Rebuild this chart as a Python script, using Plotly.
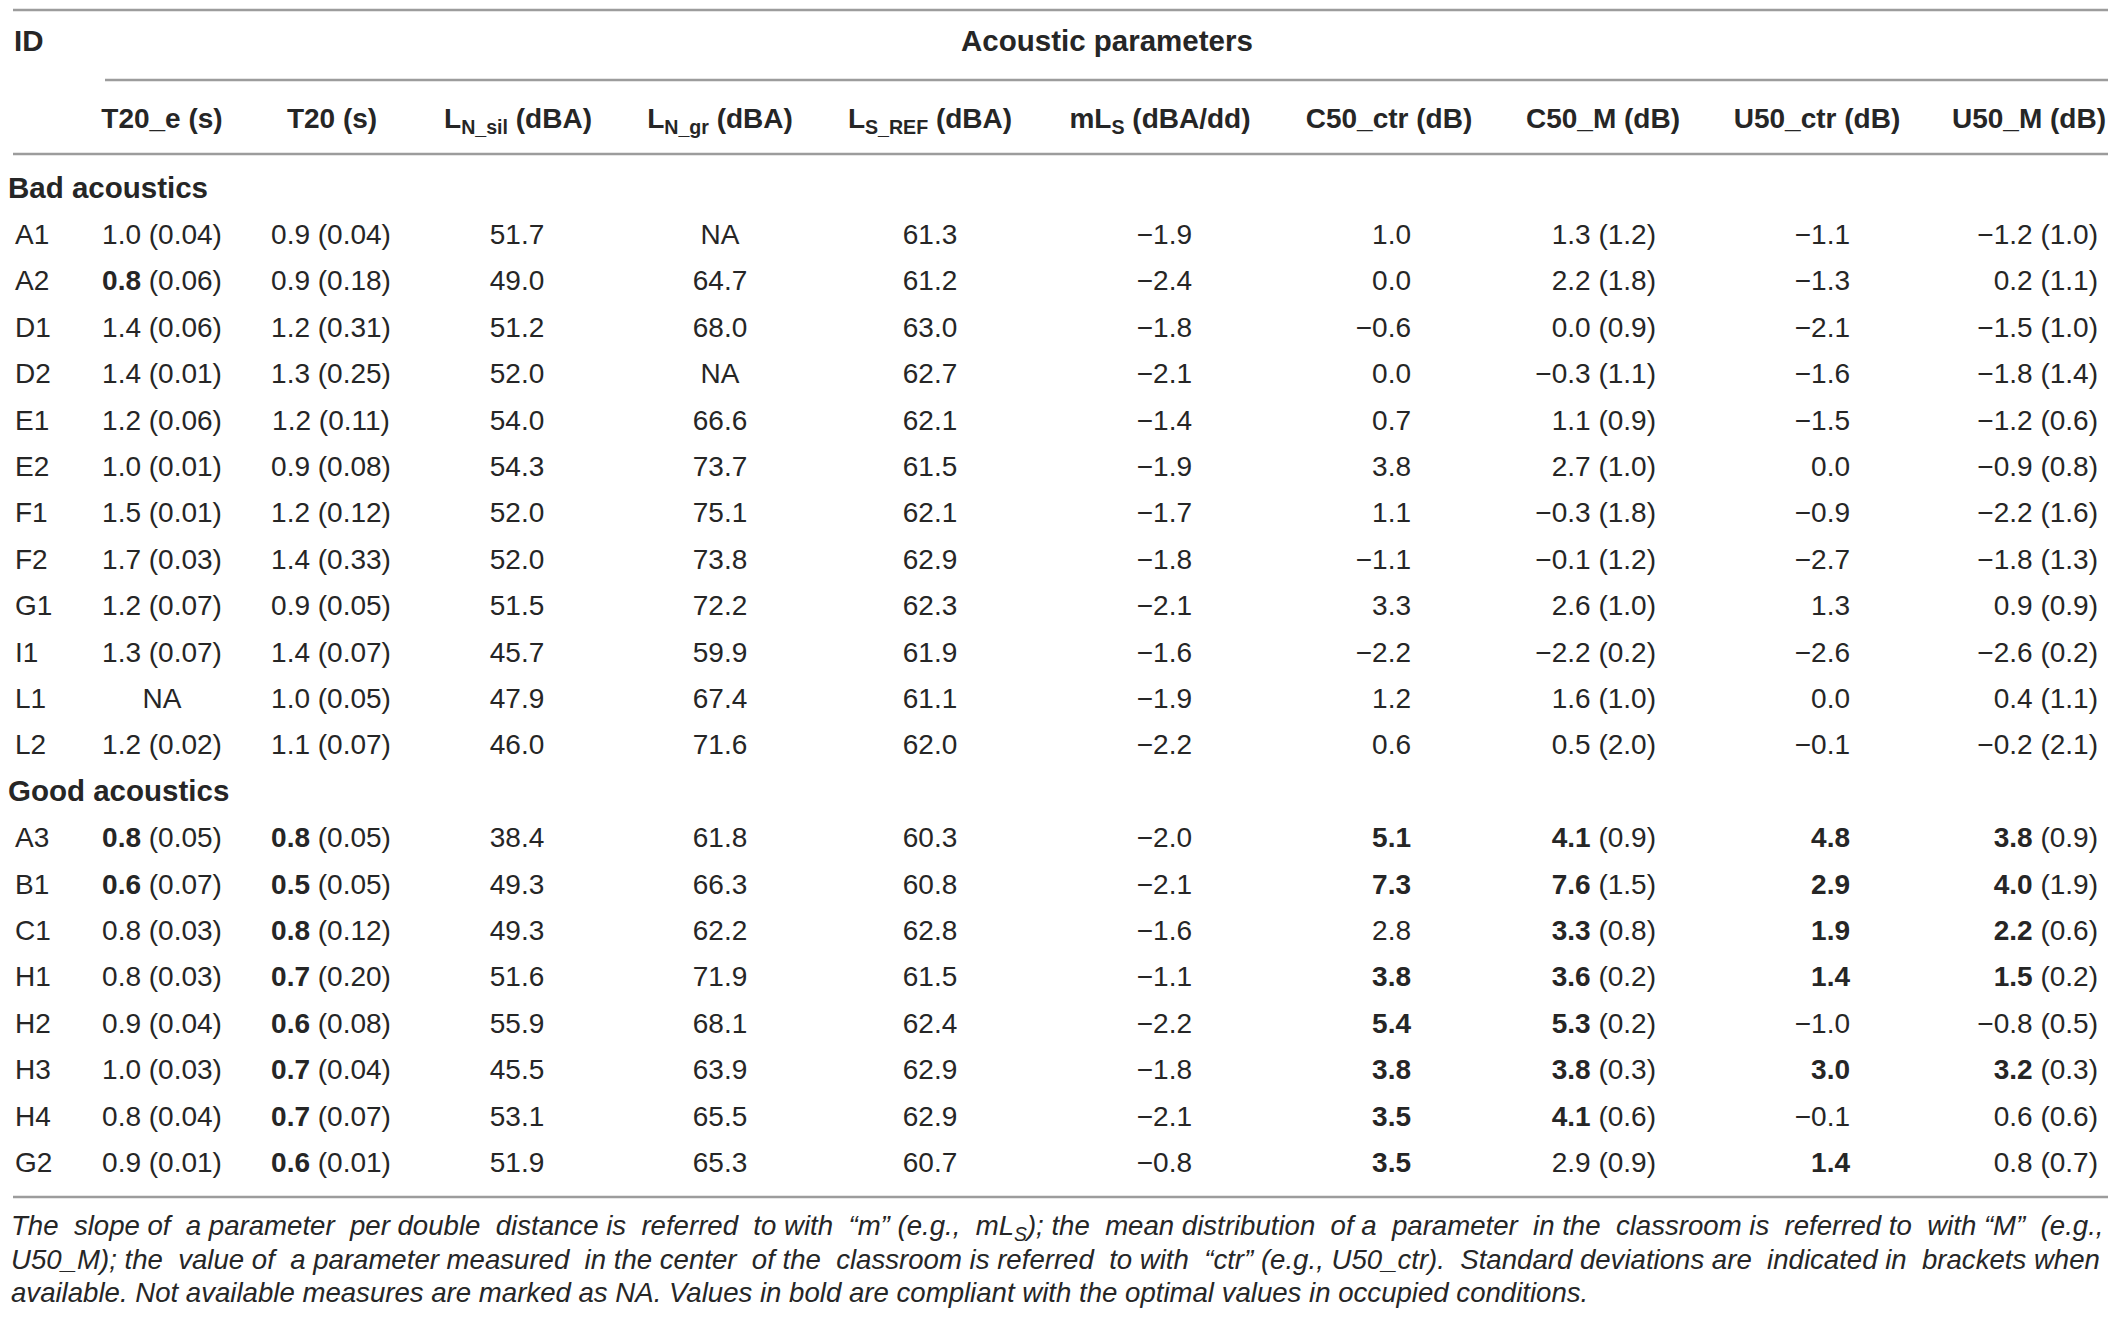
import plotly.graph_objects as go

# ---- table data ----
group_labels = ["Bad acoustics", "Good acoustics"]
bad_ids = ["A1", "A2", "D1", "D2", "E1", "E2", "F1", "F2", "G1", "I1", "L1", "L2"]
good_ids = ["A3", "B1", "C1", "H1", "H2", "H3", "H4", "G2"]

t20e_mean = [1.0, 0.8, 1.4, 1.4, 1.2, 1.0, 1.5, 1.7, 1.2, 1.3, None, 1.2,
             0.8, 0.6, 0.8, 0.8, 0.9, 1.0, 0.8, 0.9]
t20e_sd = [0.04, 0.06, 0.06, 0.01, 0.06, 0.01, 0.01, 0.03, 0.07, 0.07, None, 0.02,
           0.05, 0.07, 0.03, 0.03, 0.04, 0.03, 0.04, 0.01]
t20e_ok = [0, 1, 0, 0, 0, 0, 0, 0, 0, 0, 0, 0,
           1, 1, 0, 0, 0, 0, 0, 0]

t20_mean = [0.9, 0.9, 1.2, 1.3, 1.2, 0.9, 1.2, 1.4, 0.9, 1.4, 1.0, 1.1,
            0.8, 0.5, 0.8, 0.7, 0.6, 0.7, 0.7, 0.6]
t20_sd = [0.04, 0.18, 0.31, 0.25, 0.11, 0.08, 0.12, 0.33, 0.05, 0.07, 0.05, 0.07,
          0.05, 0.05, 0.12, 0.20, 0.08, 0.04, 0.07, 0.01]
t20_ok = [0, 0, 0, 0, 0, 0, 0, 0, 0, 0, 0, 0,
          1, 1, 1, 1, 1, 1, 1, 1]

ln_sil = [51.7, 49.0, 51.2, 52.0, 54.0, 54.3, 52.0, 52.0, 51.5, 45.7, 47.9, 46.0,
          38.4, 49.3, 49.3, 51.6, 55.9, 45.5, 53.1, 51.9]
ln_gr = [None, 64.7, 68.0, None, 66.6, 73.7, 75.1, 73.8, 72.2, 59.9, 67.4, 71.6,
         61.8, 66.3, 62.2, 71.9, 68.1, 63.9, 65.5, 65.3]
ls_ref = [61.3, 61.2, 63.0, 62.7, 62.1, 61.5, 62.1, 62.9, 62.3, 61.9, 61.1, 62.0,
          60.3, 60.8, 62.8, 61.5, 62.4, 62.9, 62.9, 60.7]
m_ls = [-1.9, -2.4, -1.8, -2.1, -1.4, -1.9, -1.7, -1.8, -2.1, -1.6, -1.9, -2.2,
        -2.0, -2.1, -1.6, -1.1, -2.2, -1.8, -2.1, -0.8]

c50_ctr = [1.0, 0.0, -0.6, 0.0, 0.7, 3.8, 1.1, -1.1, 3.3, -2.2, 1.2, 0.6,
           5.1, 7.3, 2.8, 3.8, 5.4, 3.8, 3.5, 3.5]
c50_ctr_ok = [0, 0, 0, 0, 0, 0, 0, 0, 0, 0, 0, 0,
              1, 1, 0, 1, 1, 1, 1, 1]
c50_m = [1.3, 2.2, 0.0, -0.3, 1.1, 2.7, -0.3, -0.1, 2.6, -2.2, 1.6, 0.5,
         4.1, 7.6, 3.3, 3.6, 5.3, 3.8, 4.1, 2.9]
c50_m_sd = [1.2, 1.8, 0.9, 1.1, 0.9, 1.0, 1.8, 1.2, 1.0, 0.2, 1.0, 2.0,
            0.9, 1.5, 0.8, 0.2, 0.2, 0.3, 0.6, 0.9]
c50_m_ok = [0, 0, 0, 0, 0, 0, 0, 0, 0, 0, 0, 0,
            1, 1, 1, 1, 1, 1, 1, 0]

u50_ctr = [-1.1, -1.3, -2.1, -1.6, -1.5, 0.0, -0.9, -2.7, 1.3, -2.6, 0.0, -0.1,
           4.8, 2.9, 1.9, 1.4, -1.0, 3.0, -0.1, 1.4]
u50_ctr_ok = [0, 0, 0, 0, 0, 0, 0, 0, 0, 0, 0, 0,
              1, 1, 1, 1, 0, 1, 0, 1]
u50_m = [-1.2, 0.2, -1.5, -1.8, -1.2, -0.9, -2.2, -1.8, 0.9, -2.6, 0.4, -0.2,
         3.8, 4.0, 2.2, 1.5, -0.8, 3.2, 0.6, 0.8]
u50_m_sd = [1.0, 1.1, 1.0, 1.4, 0.6, 0.8, 1.6, 1.3, 0.9, 0.2, 1.1, 2.1,
            0.9, 1.9, 0.6, 0.2, 0.5, 0.3, 0.6, 0.7]
u50_m_ok = [0, 0, 0, 0, 0, 0, 0, 0, 0, 0, 0, 0,
            1, 1, 1, 1, 0, 1, 0, 0]

col_headers = [
    "T20_e (s)", "T20 (s)", "L<sub>N_sil</sub> (dBA)", "L<sub>N_gr</sub> (dBA)",
    "L<sub>S_REF</sub> (dBA)", "mL<sub>S</sub> (dBA/dd)", "C50_ctr (dB)",
    "C50_M (dB)", "U50_ctr (dB)", "U50_M (dB)",
]

footnote_lines = [
    "The slope of a parameter per double distance is referred to with \u201cm\u201d (e.g., mL<sub>S</sub>); "
    "the mean distribution of a parameter in the classroom is referred to with \u201cM\u201d (e.g.,",
    "U50_M); the value of a parameter measured in the center of the classroom is referred to with "
    "\u201cctr\u201d (e.g., U50_ctr). Standard deviations are indicated in brackets when",
    "available. Not available measures are marked as NA. Values in bold are compliant with the "
    "optimal values in occupied conditions.",
]


# ---- formatting helpers ----
def num(v, dec=1):
    if v is None:
        return "NA"
    return "{:.{}f}".format(v, dec).replace("-", "\u2212")


def cell(v, sd=None, ok=0, sd_dec=1):
    if v is None:
        return "NA"
    s = num(v)
    if ok:
        s = "<b>" + s + "</b>"
    if sd is not None:
        s += " (" + num(sd, sd_dec) + ")"
    return s


def justify(line, extra):
    # pad some of the word gaps with a no-break space so the line fills the width
    words = line.split(" ")
    gaps = len(words) - 1
    out = words[0]
    done = 0
    for i in range(1, len(words)):
        want = round(extra * i / gaps)
        pad = "\u00a0" * (want - done)
        done = want
        out += " " + pad + words[i]
    return out


n = len(bad_ids) + len(good_ids)

columns = [
    [cell(v, s, k, 2) for v, s, k in zip(t20e_mean, t20e_sd, t20e_ok)],
    [cell(v, s, k, 2) for v, s, k in zip(t20_mean, t20_sd, t20_ok)],
    [cell(v) for v in ln_sil],
    [cell(v) for v in ln_gr],
    [cell(v) for v in ls_ref],
    [cell(v) for v in m_ls],
    [cell(v, None, k) for v, k in zip(c50_ctr, c50_ctr_ok)],
    [cell(v, s, k) for v, s, k in zip(c50_m, c50_m_sd, c50_m_ok)],
    [cell(v, None, k) for v, k in zip(u50_ctr, u50_ctr_ok)],
    [cell(v, s, k) for v, s, k in zip(u50_m, u50_m_sd, u50_m_ok)],
]

# row index of every line: group label, then its rows
group_rows = [0, len(bad_ids) + 1]
data_rows = [i + 1 for i in range(len(bad_ids))] + \
            [len(bad_ids) + 2 + i for i in range(len(good_ids))]

# ---- layout constants (page pixels across, rows down) ----
OFF = 8                # page body margin
W, H = 2116 - 2 * OFF, 1319 - 2 * OFF
ROW_PX = 46.4          # row pitch in pixels
ROW0_PX = 190.6        # page pixel centre of the first body row


def px_to_row(p):
    return (p - ROW0_PX) / ROW_PX


TEXT = "#262626"
RULE = "#9c9c9c"
FONT = "Liberation Sans"
FS = 28
FS_BIG = 29.5
FS_NOTE = 27.6

id_x = 15
head_x = [162, 332, 518, 720, 930, 1160, 1389, 1603, 1817, 2029]
col_x = [162, 331, 517, 720, 930, 1192, 1411, 1656, 1850, 2098]
col_pos = ["middle center"] * 5 + ["middle left"] * 5

fig = go.Figure()

# group labels
fig.add_trace(go.Scatter(
    x=[8, 8], y=group_rows, mode="text",
    text=["<b>" + g + "</b>" for g in group_labels],
    textposition="middle right",
    textfont=dict(family=FONT, size=FS_BIG, color=TEXT),
    hoverinfo="skip", cliponaxis=False,
))
# ID column
fig.add_trace(go.Scatter(
    x=[id_x] * n, y=data_rows, mode="text", text=bad_ids + good_ids,
    textposition="middle right",
    textfont=dict(family=FONT, size=FS, color=TEXT),
    hoverinfo="skip", cliponaxis=False,
))
# value columns
for cx, pos, vals in zip(col_x, col_pos, columns):
    fig.add_trace(go.Scatter(
        x=[cx] * n, y=data_rows, mode="text", text=vals,
        textposition=pos,
        textfont=dict(family=FONT, size=FS, color=TEXT),
        hoverinfo="skip", cliponaxis=False,
    ))
# column headers
fig.add_trace(go.Scatter(
    x=head_x, y=[px_to_row(121)] * len(head_x), mode="text",
    text=["<b>" + h + "</b>" for h in col_headers],
    textposition="middle center",
    textfont=dict(family=FONT, size=FS, color=TEXT),
    hoverinfo="skip", cliponaxis=False,
))

annotations = [
    dict(x=12, y=px_to_row(40), text="<b>ID</b>", xanchor="left", yanchor="middle",
         showarrow=False, font=dict(family=FONT, size=FS_BIG, color=TEXT)),
    dict(x=1107, y=px_to_row(40), text="<b>Acoustic parameters</b>", xanchor="center",
         yanchor="middle", showarrow=False, font=dict(family=FONT, size=FS_BIG, color=TEXT)),
]
for line, p, extra in zip(footnote_lines, [1227, 1259, 1292], [16, 10, 0]):
    annotations.append(dict(
        x=OFF + 1, y=px_to_row(p), text=justify(line, extra), xanchor="left", yanchor="middle",
        showarrow=False, font=dict(family=FONT, size=FS_NOTE, color=TEXT, style="italic"),
    ))

rules = [(13, 2108, OFF + 2), (105, 2108, 80), (13, 2108, 154), (13, 2108, 1197)]
shapes = [
    dict(type="line", x0=a, x1=b, y0=px_to_row(p), y1=px_to_row(p),
         xref="x", yref="y", line=dict(color=RULE, width=2.5))
    for a, b, p in rules
]

fig.update_layout(
    width=W, height=H,
    margin=dict(l=0, r=0, t=0, b=0),
    paper_bgcolor="white", plot_bgcolor="white",
    showlegend=False,
    annotations=annotations,
    shapes=shapes,
)
fig.update_xaxes(range=[OFF, OFF + W], visible=False, fixedrange=True)
fig.update_yaxes(range=[px_to_row(OFF + H), px_to_row(OFF)], visible=False, fixedrange=True)

fig.write_html("out.html", config={"displayModeBar": False})
